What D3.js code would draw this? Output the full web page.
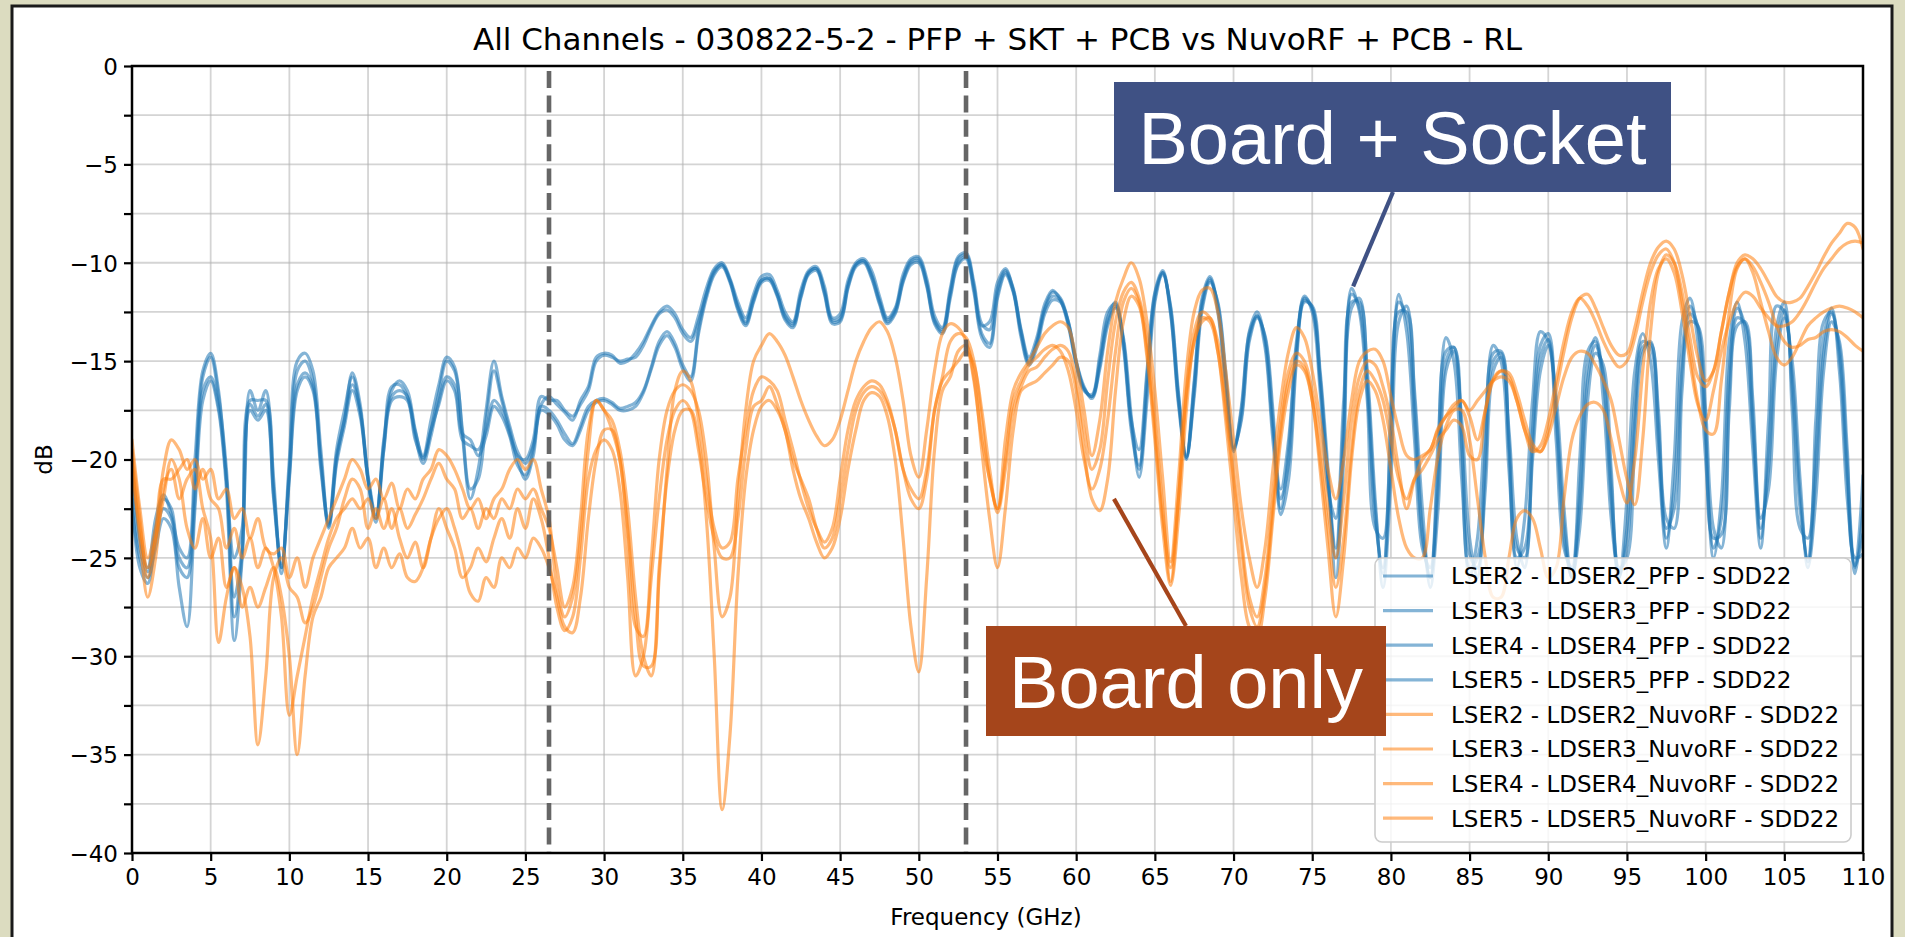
<!DOCTYPE html>
<html><head><meta charset="utf-8">
<script src="https://cdn.jsdelivr.net/npm/d3@7"></script>
<style>
html,body{margin:0;padding:0;background:#dcdcc0;overflow:hidden;}
svg{display:block;}
</style></head><body>
<svg id="chart" width="1905" height="937"></svg>
<script>
// ---------------- DATA ----------------
const freqStep = 0.5; // GHz between samples, 0 .. 110 GHz
const titleText = "All Channels - 030822-5-2 - PFP + SKT + PCB vs NuvoRF + PCB - RL";
const xLabel = "Frequency (GHz)";
const yLabel = "dB";
const xTicks = [0,5,10,15,20,25,30,35,40,45,50,55,60,65,70,75,80,85,90,95,100,105,110];
const yTicks = [0,-2.5,-5,-7.5,-10,-12.5,-15,-17.5,-20,-22.5,-25,-27.5,-30,-32.5,-35,-37.5,-40];
const markerFreqs = [26.5, 53];
const seriesNames = [
  "LSER2 - LDSER2_PFP - SDD22","LSER3 - LDSER3_PFP - SDD22",
  "LSER4 - LDSER4_PFP - SDD22","LSER5 - LDSER5_PFP - SDD22",
  "LSER2 - LDSER2_NuvoRF - SDD22","LSER3 - LDSER3_NuvoRF - SDD22",
  "LSER4 - LDSER4_NuvoRF - SDD22","LSER5 - LDSER5_NuvoRF - SDD22"];
const seriesGroup = ["PFP","PFP","PFP","PFP","NuvoRF","NuvoRF","NuvoRF","NuvoRF"];

const lser2_pfp = [
-21,-24.5,-25.7,-23.5,-22,-22.5,-25,-25.5,-21,-15.8,
-14.8,-16.8,-20.5,-27,-24.5,-17,-17,-17,-21.5,-25.5,
-20.5,-15.5,-15,-16,-20,-23.2,-19.5,-17.5,-15.8,-17.5,
-21,-23,-19,-16.5,-16,-16.5,-18.5,-20,-18.5,-16.6,
-15,-15.5,-18.5,-21.5,-21,-18,-15.5,-17,-18.5,-19.8,
-20,-19,-16.8,-17,-17,-17.5,-17.8,-17.2,-16.5,-15,
-14.7,-14.8,-15,-14.9,-14.8,-14.2,-13.3,-12.6,-12.4,-12.8,
-13.6,-14,-13,-11.6,-10.5,-10.1,-10.9,-12.2,-13,-11.8,
-10.9,-10.8,-11.6,-12.7,-13.1,-11.6,-10.5,-10.3,-11.4,-12.9,
-12.8,-11.1,-10.1,-9.9,-10.6,-11.9,-12.9,-12.4,-10.8,-9.9,
-9.8,-11,-12.9,-13.4,-11.5,-9.8,-9.6,-11.2,-13.2,-13.0,
-11,-10.3,-11.4,-13.5,-15,-14,-12.3,-11.5,-11.8,-13,
-15,-16.4,-16.8,-15,-12.8,-12,-14,-18,-19.5,-15.5,
-11.5,-10.4,-12.5,-17,-19.8,-16,-11.8,-10.7,-12.3,-16,
-19.4,-17.5,-13.5,-12.5,-14,-18.5,-21.5,-19,-14,-11.7,
-12.5,-16.5,-21.5,-23,-17,-11.3,-12.5,-17,-23.5,-24,
-17,-11.6,-13.5,-19,-24.5,-25.5,-19,-13.8,-15,-21,
-26,-24,-18,-14.2,-15,-20.5,-25.5,-23,-17,-13.5,
-14,-19,-24.5,-25.5,-20,-14.5,-14,-17,-23,-26,
-22,-15.5,-13.6,-15,-20,-24.5,-20,-13,-11.8,-14,
-20,-25,-22,-14,-12,-14,-19.5,-24.5,-18,-12.2,
-12.5,-17.5,-23.5,-24,-18,-13,-12.5,-15.5,-22,-25.5,
-20.8];
const lser3_pfp = [
-20,-24,-25.5,-23,-21.8,-22.8,-24.5,-25,-20,-15.5,
-14.6,-16.5,-21,-25,-23.5,-16.5,-17.5,-16.5,-21,-25.8,
-20,-15,-14.6,-15.5,-19.5,-23.4,-19.8,-18,-15.6,-17.2,
-21.1,-23.2,-19.5,-16.3,-16.2,-16.8,-18.6,-19.8,-18,-16.2,
-14.8,-15.3,-18.8,-22,-20.5,-17.5,-15,-16.8,-18.3,-19.6,
-20.2,-19.3,-17.2,-16.8,-17.2,-17.6,-18,-17,-16.3,-14.8,
-14.6,-14.7,-15.1,-15,-14.6,-14,-13.2,-12.5,-12.2,-12.6,
-13.4,-13.8,-12.7,-11.3,-10.3,-10,-10.8,-12,-12.8,-11.6,
-10.7,-10.6,-11.4,-12.5,-13,-11.4,-10.4,-10.2,-11.2,-12.8,
-12.6,-10.9,-10,-9.8,-10.4,-11.7,-12.8,-12.3,-10.6,-9.8,
-9.7,-10.8,-12.7,-13.3,-11.3,-9.7,-9.5,-11,-13.1,-13.4,
-11.3,-10.4,-11.3,-13.4,-14.8,-13.8,-12.1,-11.4,-11.9,-13.2,
-15.2,-16.5,-16.7,-14.7,-12.5,-12.1,-14.3,-18.5,-20.5,-15.8,
-11.6,-10.5,-12.6,-17.2,-20,-16.2,-12,-10.8,-12.5,-16.3,
-19.6,-17.3,-13.6,-12.7,-14.3,-19,-22.5,-19.5,-14.3,-11.9,
-12.3,-16,-21,-24.5,-18,-11.6,-12.3,-16.5,-23,-25.5,
-18.5,-12,-12.8,-18,-24,-26,-20.5,-14.5,-14.3,-19.5,
-25.5,-25,-19.5,-14.6,-14.5,-19.5,-25,-24.5,-18.5,-14.2,
-13.6,-18,-24,-26,-21.5,-15.2,-13.8,-16,-22,-26,
-23.5,-17,-14,-14.3,-19,-24,-21.5,-14.5,-12.2,-13.3,
-19,-24.5,-23,-15.5,-12.3,-13.2,-18.5,-24,-19.5,-13.3,
-12,-16.5,-22.5,-25,-19.5,-13.8,-12.3,-14.8,-21,-25.8,
-22.5];
const lser4_pfp = [
-22.5,-25,-26,-24.5,-23,-23.5,-26.5,-28.5,-22.5,-17,
-16,-17.5,-21.5,-29.2,-25,-17.5,-18,-17.5,-22,-25.5,
-21,-16.5,-15.8,-16.5,-20.5,-23.3,-20,-18,-16.2,-17.5,
-20.8,-22.8,-19.5,-17,-16.8,-17,-19,-19.9,-18.5,-17.2,
-16,-16.5,-19,-19.3,-19.5,-18.5,-17,-17.5,-18.7,-20,
-21,-19.8,-17.5,-17.7,-18.2,-19,-19.3,-18.5,-17.5,-17.1,
-17,-17.2,-17.5,-17.5,-17.3,-16.6,-15.4,-14.2,-13.7,-14.3,
-15.4,-16,-13.6,-11.8,-10.6,-10.2,-11,-12.4,-13.2,-12,
-11,-10.9,-11.7,-12.9,-13.3,-11.8,-10.6,-10.4,-11.6,-13.1,
-13,-11.3,-10.2,-10,-10.8,-12.1,-13.1,-12.6,-11,-10.1,
-10,-11.2,-13.1,-13.6,-11.8,-10.1,-9.8,-11.5,-13.8,-14.3,
-11.8,-10.6,-11.5,-13.8,-15.2,-14.3,-12.6,-11.9,-12,-13,
-15,-16.3,-16.9,-15.4,-13.2,-12.3,-13.8,-17.8,-20.9,-17,
-12,-10.6,-12.2,-16.6,-19.9,-16.8,-12.4,-11,-12,-15.5,
-19.4,-18,-14,-12.8,-13.7,-17.5,-22.8,-21,-15,-12,
-12.2,-15.5,-20.5,-26,-20,-12.3,-11.8,-15.5,-22,-26.5,
-21,-13,-12.2,-16.5,-22.5,-26.5,-22.5,-15.5,-14.5,-18,
-24,-26,-21.5,-15.5,-14.8,-18.5,-24,-25.5,-20,-15.5,
-14.2,-16.8,-22.5,-26,-23.5,-17,-14.6,-15.2,-20.5,-25.5,
-25,-19,-14.6,-14,-17.5,-23,-23.5,-16.5,-13,-13.2,
-17.5,-23.5,-24.5,-17.5,-13.2,-13,-17,-23,-21.5,-15,
-12.8,-15,-21,-25.5,-22,-15.5,-13,-14,-19.5,-25,
-24.8];
const lser5_pfp = [
-22,-25.5,-26.3,-24,-22.5,-23,-25.5,-26,-22,-16.5,
-15.8,-17.3,-21,-28,-24.8,-17.2,-17.8,-17.2,-21.8,-25.3,
-20.8,-16.2,-15.6,-16.3,-20.2,-23.5,-20.2,-18.3,-16.5,-17.8,
-21,-23,-19.2,-16.8,-16.5,-16.8,-18.8,-20.2,-18.8,-17,
-15.8,-16.2,-18.7,-19,-19.8,-18.8,-17.3,-17.8,-18.8,-20.3,
-20.8,-19.5,-17.3,-17.5,-18,-18.7,-19.2,-18.3,-17.3,-17,
-16.9,-17.1,-17.4,-17.3,-17.1,-16.5,-15.3,-14,-13.5,-14.1,
-15.2,-15.8,-13.4,-11.6,-10.4,-10.1,-10.9,-12.3,-13.1,-11.9,
-10.9,-10.8,-11.6,-12.8,-13.2,-11.7,-10.5,-10.3,-11.5,-13,
-12.9,-11.2,-10.1,-9.9,-10.7,-12,-13,-12.5,-10.9,-10,
-9.9,-11.1,-13,-13.5,-11.6,-10,-9.7,-11.3,-13.6,-14.1,
-11.6,-10.5,-11.4,-13.6,-15.1,-14.1,-12.4,-11.7,-11.9,-13.1,
-15.1,-16.4,-16.8,-15.2,-13,-12.2,-14,-18.2,-20.3,-16.4,
-11.8,-10.5,-12.3,-16.8,-19.9,-16.5,-12.2,-10.9,-12.1,-15.8,
-19.5,-17.8,-13.8,-12.7,-13.8,-18,-22,-20.2,-14.6,-11.8,
-12.3,-15.8,-21,-25,-19,-12,-12,-16,-22.5,-25.8,
-20,-12.5,-12.5,-17,-23.5,-26,-21.5,-15,-14.3,-18.8,
-24.8,-25.5,-20.5,-15,-14.6,-19,-24.5,-25,-19.3,-14.8,
-13.9,-17.5,-23.2,-26,-22.5,-16,-14.2,-15.6,-21.2,-25.8,
-24.3,-18,-14.3,-14.1,-18.2,-23.5,-22.5,-15.5,-12.6,-13.2,
-18.2,-24,-23.8,-16.5,-12.8,-13.1,-17.8,-23.5,-20.5,-14.2,
-12.4,-15.7,-21.8,-25.2,-20.8,-14.6,-12.6,-14.3,-20.2,-25.4,
-23.8];
const lser2_nuvorf = [
-19.5,-23,-26,-24,-20.5,-19,-19.5,-20.5,-20,-21,
-20.5,-22,-21.5,-23,-22.5,-24,-23,-24.5,-24.8,-24.5,
-26,-25,-26.5,-25,-24,-23,-22,-21,-20,-20.5,
-21.5,-21,-22,-21.2,-22.5,-21.5,-22,-21,-20.5,-19.5,
-19.8,-20.5,-21.5,-22.5,-22,-23,-22,-21.5,-20.5,-20,
-20.5,-20,-21.5,-23,-26.5,-28,-27,-24,-19.5,-17,
-17.5,-18.5,-20,-24,-28.5,-29,-25,-20,-17.5,-16.5,
-16.2,-16.5,-17.5,-20,-24.5,-28,-27,-22,-17.5,-15,
-14.2,-13.6,-14,-14.7,-15.8,-17,-18,-18.8,-19.3,-19,
-18,-16.5,-15,-14,-13.3,-13,-13.5,-14.8,-17,-19.8,
-20.9,-18.5,-15.5,-13.6,-13.1,-13.3,-14,-16,-19,-21,
-22.5,-19,-16.5,-15.6,-15,-14.3,-13.6,-13.2,-13,-13.3,
-15,-17.5,-19.8,-18,-14.5,-12,-10.8,-10,-10.8,-13,
-16.5,-21,-25.2,-21,-15.5,-12.5,-11.4,-11.3,-12.5,-15.5,
-19,-22.5,-25,-26.5,-24.5,-20.5,-17,-14.5,-13.3,-13.8,
-15.5,-18,-20.5,-22,-20,-17,-15,-14.5,-14.4,-15,
-16.8,-18.5,-19.8,-20,-19.8,-19.5,-18.4,-17.8,-17.4,-17,
-17.8,-19,-17.5,-16,-15.5,-15.6,-16.6,-18,-19.2,-19.6,
-18.5,-16.5,-14.5,-12.8,-11.8,-11.6,-12.3,-13.3,-14.2,-14.7,
-14.6,-13.3,-11.5,-10,-9.2,-8.9,-9.3,-10.6,-12.7,-14.8,
-16,-15.5,-13.5,-11.5,-10,-9.6,-9.8,-10.3,-11,-11.7,
-12,-12,-11.8,-11.2,-10.5,-9.7,-9,-8.5,-8,-8.2,
-9.3];
const lser3_nuvorf = [
-20,-24,-27,-25,-21.5,-20.5,-22,-21,-20.5,-22.5,
-24,-29.3,-27,-25.5,-26.5,-29,-34.5,-31,-26,-25,
-26.5,-27,-28.3,-27.5,-26,-24.5,-23.5,-22,-21,-21.5,
-23.5,-22.5,-23.5,-22.5,-24,-25,-24.2,-25.5,-24,-22.5,
-23.5,-24.5,-26,-25.5,-24.5,-25.2,-24,-23,-24,-22.5,
-23.5,-22,-23,-25,-27.5,-28.7,-28,-25,-21,-19.5,
-19,-19.5,-21.5,-26,-31,-30,-26,-22,-19,-17.5,
-17,-17.5,-19.5,-22,-24,-25,-25,-23,-19.5,-17.3,
-17,-16.3,-17.2,-18.5,-20,-21,-22,-23.5,-24.5,-24,
-22,-19.5,-17.5,-16.6,-16.3,-16.5,-17.2,-18.5,-20.5,-22,
-22.5,-21,-17.5,-16,-15.5,-15,-14.5,-15.2,-17.5,-20.5,
-22.7,-20.5,-17.5,-16.3,-15.5,-15.3,-14.8,-14.4,-14.2,-14.5,
-16,-18.5,-20.5,-19.5,-16,-13,-11.5,-11,-11.8,-14,
-18,-22.5,-26.2,-22,-16.5,-13.5,-12.5,-12.8,-14,-17,
-20.5,-24,-27,-28,-26,-22,-18,-15.5,-14.6,-15,
-16.5,-19,-22.5,-25,-22,-18,-15.8,-15,-15.2,-16.3,
-18,-20.5,-22.5,-21,-20,-19.5,-18.5,-17.8,-17.2,-17,
-17.5,-17,-16.5,-16,-15.8,-16,-17,-18.5,-19.6,-19.3,
-18,-16,-14,-12.5,-11.8,-12.2,-13,-14,-14.8,-15.3,
-15,-13.8,-12,-10.5,-9.6,-9.3,-10,-12,-14.5,-17,
-18.5,-18.7,-16,-12.5,-10.3,-9.8,-10.5,-12,-13.5,-14.8,
-15.2,-14.8,-14,-13.2,-12.8,-12.5,-12.3,-12.2,-12.3,-12.5,
-12.8];
const lser4_nuvorf = [
-20.5,-23.5,-25.5,-24,-22,-20,-21,-23.5,-24.5,-23,
-25,-24,-26.5,-25.5,-27.5,-26.5,-27.5,-26.5,-25.5,-27,
-30,-35,-31,-28,-27,-25.5,-25,-24.5,-23.5,-24.5,
-24,-25.5,-24.5,-25.5,-24.8,-26,-26.2,-25.5,-24,-23,
-22.5,-23.5,-25,-26.8,-27.2,-26,-26.5,-25,-25.5,-24.5,
-25,-24,-24.5,-25.5,-27,-28.5,-28.8,-27,-23,-20,
-18.5,-18.5,-20,-23.5,-28,-30.5,-30.5,-25.5,-21,-18.5,
-17.5,-17.5,-19,-23,-30,-37.8,-34,-26,-21,-18.5,
-17.3,-17,-17.5,-18.5,-20.5,-22,-23,-24.2,-25,-24.5,
-23,-20.5,-18.5,-17,-16.6,-16.8,-17.8,-20,-24,-28.5,
-30.8,-26,-19.5,-16.5,-15.8,-14.5,-14.2,-15.8,-19.5,-23,
-25.5,-22.5,-18.5,-16.5,-16.2,-16,-15.6,-15.2,-14.8,-15,
-16.5,-19.5,-22,-22.6,-21,-16.5,-13,-11.7,-12.2,-14.8,
-19,-23.5,-26.4,-23,-17.5,-14,-13,-12.8,-14.5,-18,
-22,-26,-28.5,-29,-27,-23,-19,-16.5,-15.2,-15.5,
-17,-20.5,-24.5,-28,-25,-20,-17,-16,-16.5,-18,
-20.5,-23,-24.5,-25,-25,-22.5,-19.8,-18.3,-17.5,-17.5,
-19,-22,-25,-27,-27,-25,-23,-22.6,-23,-24.5,
-26,-25.5,-22,-19,-17.8,-17.2,-17.1,-17.5,-19,-21,
-22.2,-20,-15.5,-12,-10.3,-9.8,-10.5,-12.5,-15,-17.2,
-18,-16.5,-14.5,-13,-12,-11.5,-11.7,-12.3,-12.8,-13.2,
-13.2,-13,-12.5,-11.8,-11,-10.3,-9.8,-9.3,-9,-8.9,
-9];
const lser5_nuvorf = [
-19,-22.5,-25,-23.5,-21,-21,-20.5,-20,-21.5,-20.5,
-22,-22.5,-24.5,-23.5,-25,-24,-25.5,-24.5,-25.5,-28,
-33,-31,-29,-27,-25.5,-24,-23,-22.5,-22,-22.5,
-22,-23,-22,-23.5,-22.5,-23.5,-22.8,-22,-21,-20.2,
-21,-21.5,-23,-22.5,-23.5,-22.5,-23,-22,-22.5,-21.5,
-22,-21.5,-22.5,-23.5,-25.5,-27.5,-26.5,-23,-18.5,-17,
-17.5,-18,-19.5,-22.5,-27,-30,-31,-26,-20.5,-16.5,
-15.5,-16,-18,-21,-23.5,-24.5,-24.2,-21,-18.5,-16.5,
-15.8,-16,-16.5,-18,-19.5,-21.1,-22.5,-23.5,-24.2,-23.5,
-21,-18.5,-17,-16.3,-16,-16.2,-17,-18.5,-20.5,-21.5,
-22,-20.5,-17.5,-15.8,-14,-13.6,-13.8,-15,-18,-21,
-22.5,-20,-17,-16,-15.2,-14.8,-14.4,-14.2,-14.5,-15.5,
-17.5,-20,-21.5,-20.5,-18,-14.5,-12,-11.3,-12,-14.5,
-18.5,-23,-25.5,-22,-16.8,-14,-12.8,-13,-14.5,-17.5,
-21,-24.5,-27.5,-28.5,-26.5,-22.5,-18.5,-16,-15,-15.3,
-17,-20,-23.5,-26.5,-24,-19.5,-16.5,-15.5,-16,-17,
-19,-21,-22,-21,-20.5,-19.8,-19,-18.5,-18,-18.3,
-19.8,-20,-17.5,-15.9,-15.5,-15.8,-17,-18.5,-19.4,-19.6,
-18.8,-17.3,-15.8,-14.8,-14.5,-14.6,-15.2,-16,-17,-19,
-21,-22.3,-19,-13.5,-10.5,-9.6,-10,-11.5,-13.8,-15.8,
-16.3,-15.5,-13.5,-11.5,-10.2,-9.8,-10.2,-11,-12,-13.2,
-14,-14.3,-14.2,-13.9,-13.8,-13.5,-13.4,-13.5,-13.8,-14.2,
-14.5];

const seriesValues = [lser2_pfp, lser3_pfp, lser4_pfp, lser5_pfp,
                      lser2_nuvorf, lser3_nuvorf, lser4_nuvorf, lser5_nuvorf];

const annotBoardSocket = {text:"Board + Socket", freq:77.6, db:-11.2};
const annotBoardOnly   = {text:"Board only",     freq:62.4, db:-22.0};

// ---------------- LAYOUT ----------------
const W = 1905, H = 937;
const plot = {left:132, right:1863, top:66, bottom:853};
const colors = {PFP:"#1f77b4", NuvoRF:"#ff7f0e"};
const lineAlpha = 0.55;
const font = "'DejaVu Sans', sans-serif";

const svg = d3.select("#chart");
// white panel with dark border
svg.append("rect").attr("x",12).attr("y",6).attr("width",1880).attr("height",H+10)
   .attr("fill","#ffffff").attr("stroke","#1a1a1a").attr("stroke-width",3);

const x = d3.scaleLinear().domain([0,110]).range([plot.left, plot.right]);
const y = d3.scaleLinear().domain([-40,0]).range([plot.bottom, plot.top]);

// grid
const grid = svg.append("g");
grid.selectAll("line.gx").data(xTicks).join("line")
  .attr("x1",d=>x(d)).attr("x2",d=>x(d)).attr("y1",plot.top).attr("y2",plot.bottom)
  .attr("stroke","#b0b0b0").attr("stroke-opacity",0.55).attr("stroke-width",1.8);
grid.selectAll("line.gy").data(yTicks).join("line")
  .attr("y1",d=>y(d)).attr("y2",d=>y(d)).attr("x1",plot.left).attr("x2",plot.right)
  .attr("stroke","#b0b0b0").attr("stroke-opacity",0.55).attr("stroke-width",1.8);

// clip
svg.append("clipPath").attr("id","clip").append("rect")
  .attr("x",plot.left).attr("y",plot.top).attr("width",plot.right-plot.left).attr("height",plot.bottom-plot.top);

const line = d3.line()
  .x((d,i)=>x(i*freqStep)).y(d=>y(d))
  .curve(d3.curveCatmullRom.alpha(0.5));

const lines = svg.append("g").attr("clip-path","url(#clip)");
seriesValues.forEach((vals,k)=>{
  lines.append("path").datum(vals)
    .attr("d",line).attr("fill","none")
    .attr("stroke",colors[seriesGroup[k]]).attr("stroke-opacity",lineAlpha)
    .attr("stroke-width",3.2).attr("stroke-linejoin","round").attr("stroke-linecap","round");
});

// dashed markers
svg.append("g").selectAll("line").data(markerFreqs).join("line")
  .attr("x1",d=>x(d)).attr("x2",d=>x(d)).attr("y1",plot.top).attr("y2",plot.bottom)
  .attr("stroke","#555555").attr("stroke-opacity",0.9).attr("stroke-width",4.6)
  .attr("stroke-dasharray","17,7.4").attr("stroke-dashoffset",-5);

// axes
const fmt = d3.format("");
const xAxis = d3.axisBottom(x).tickValues(xTicks).tickSize(8).tickSizeOuter(0).tickPadding(6)
  .tickFormat(d=>fmt(d));
const yAxis = d3.axisLeft(y).tickValues(yTicks).tickSize(8).tickSizeOuter(0).tickPadding(6)
  .tickFormat(d=> (d%5===0) ? fmt(d) : "");
const gx = svg.append("g").attr("transform",`translate(0,${plot.bottom})`).call(xAxis);
const gy = svg.append("g").attr("transform",`translate(${plot.left},0)`).call(yAxis);
[gx,gy].forEach(g=>{
  g.selectAll("path.domain").remove();
  g.selectAll(".tick line").attr("stroke","#000").attr("stroke-width",2.2);
  g.selectAll(".tick text").attr("fill","#000").style("font-family",font).style("font-size","23px");
});
gx.selectAll(".tick text").attr("dy",null).attr("y",32);
gy.selectAll(".tick text").attr("dy",null).attr("dominant-baseline",null).attr("y",8.3);

// frame (spines)
svg.append("rect").attr("x",plot.left).attr("y",plot.top)
  .attr("width",plot.right-plot.left).attr("height",plot.bottom-plot.top)
  .attr("fill","none").attr("stroke","#000").attr("stroke-width",2.5);

// title and axis labels
svg.append("text").attr("x",(plot.left+plot.right)/2).attr("y",50)
  .attr("text-anchor","middle").style("font-family",font).style("font-size","31px")
  .attr("fill","#000").text(titleText);
svg.append("text").attr("x",986).attr("y",925)
  .attr("text-anchor","middle").style("font-family",font).style("font-size","23px")
  .attr("fill","#000").text(xLabel);
svg.append("text").attr("transform",`translate(52,${(plot.top+plot.bottom)/2}) rotate(-90)`)
  .attr("text-anchor","middle").style("font-family",font).style("font-size","23px")
  .attr("fill","#000").text(yLabel);

// legend
const lg = svg.append("g");
lg.append("rect").attr("x",1375).attr("y",558).attr("width",476).attr("height",284)
  .attr("rx",7).attr("fill","#ffffff").attr("fill-opacity",0.8)
  .attr("stroke","#cccccc").attr("stroke-width",1.6);
seriesNames.forEach((name,i)=>{
  const yy = 576 + i*34.6;
  lg.append("line").attr("x1",1383).attr("x2",1433).attr("y1",yy).attr("y2",yy)
    .attr("stroke",colors[seriesGroup[i]]).attr("stroke-opacity",lineAlpha).attr("stroke-width",3.2);
  lg.append("text").attr("x",1451).attr("y",yy+8.3).style("font-family",font)
    .style("font-size","23px").attr("fill","#000").text(name);
});

// annotations
function callout(a, box, color, anchor){
  svg.append("line").attr("x1",anchor[0]).attr("y1",anchor[1])
    .attr("x2",x(a.freq)).attr("y2",y(a.db))
    .attr("stroke",color).attr("stroke-width",4.2);
  svg.append("rect").attr("x",box.x).attr("y",box.y).attr("width",box.w).attr("height",box.h)
    .attr("fill",color);
  svg.append("text").attr("x",box.x+box.w/2).attr("y",box.y+box.h/2+26.5)
    .attr("text-anchor","middle").style("font-family","'Liberation Sans', Arial, sans-serif")
    .style("font-size","74px").attr("fill","#ffffff").text(a.text);
}
callout(annotBoardSocket, {x:1114,y:82,w:557,h:110}, "#3f5184", [1393,192]);
callout(annotBoardOnly, {x:986,y:626,w:400,h:110}, "#a5451b", [1186,626]);
</script>
</body></html>
